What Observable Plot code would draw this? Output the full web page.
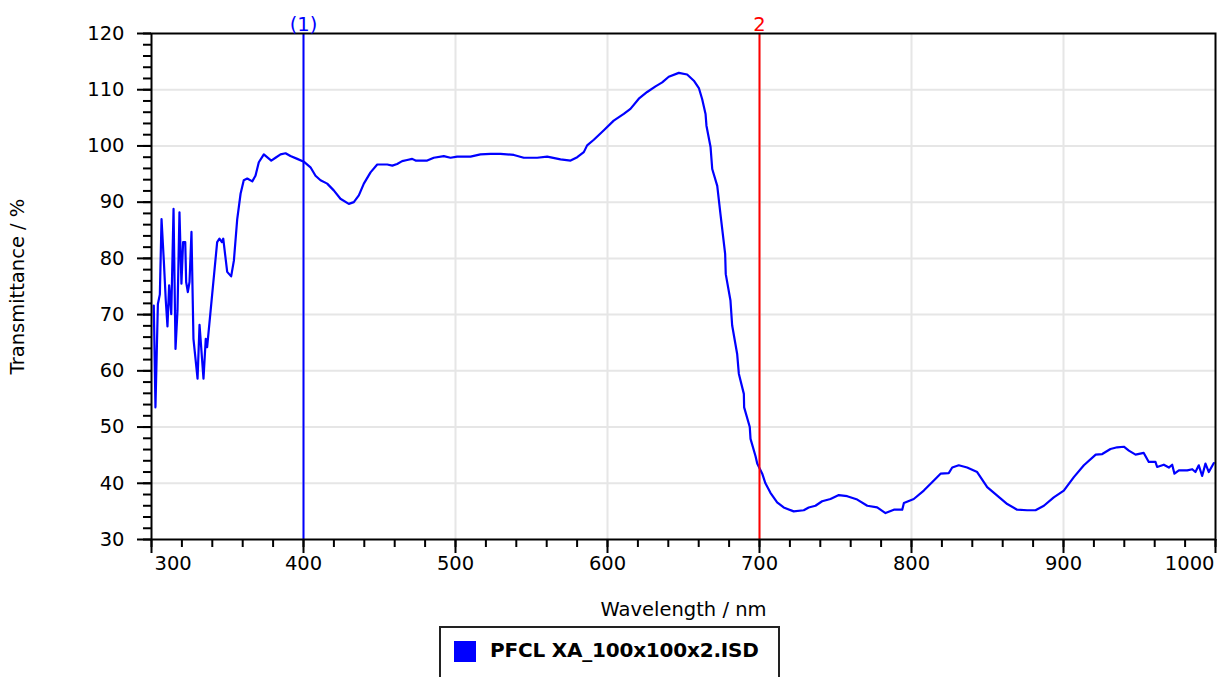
<!DOCTYPE html>
<html>
<head>
<meta charset="utf-8">
<script src="https://cdn.jsdelivr.net/npm/d3@7"></script>
<script src="https://cdn.jsdelivr.net/npm/@observablehq/plot@0.6"></script>
<style>
  html, body { margin: 0; padding: 0; background: #fff; overflow: hidden; }
  #wrap { position: relative; width: 1221px; height: 677px; font-family: "DejaVu Sans", sans-serif; }
  #legend { position: absolute; left: 439px; top: 626px; width: 337px; height: 70px; border: 2px solid #222; background: #fff; }
  #legend .sw { position: absolute; left: 13px; top: 13px; width: 22px; height: 21px; background: #0000ff; }
  #legend .lb { position: absolute; left: 49px; top: 10px; font-weight: bold; font-size: 20px; color: #000; white-space: nowrap; letter-spacing: -0.2px; }
</style>
</head>
<body>
<div id="wrap"><div id="chart"></div>
<div id="legend"><div class="sw"></div><div class="lb">PFCL XA_100x100x2.ISD</div></div>
</div>
<script>
const wavelength = [301.5,302.6,304.2,305.5,306.6,308.1,309.4,310.5,311.6,313.0,314.5,315.8,317.1,318.4,319.7,320.8,322.2,322.8,323.9,325.0,326.3,327.6,330.3,331.6,334.2,335.7,336.6,343.2,344.7,346.3,347.2,349.8,352.4,354.2,356.4,358.6,360.7,363.0,366.3,368.4,370.6,373.9,378.8,381.6,384.9,388.2,391.4,395.9,400.2,404.6,407.9,411.2,415.6,419.9,424.3,429.8,433.1,436.4,439.7,444.1,448.5,455.1,458.4,461.6,464.9,468.2,471.5,473.7,481.4,485.7,492.3,496.7,501.1,509.9,516.4,523.0,529.6,538.4,544.9,553.7,560.3,569.1,575.7,580.1,584.4,586.6,591.0,597.6,604.1,610.7,615.1,620.6,626.1,631.6,636.0,640.3,646.9,652.4,656.8,660.1,662.3,664.5,665.1,667.8,668.9,672.2,674.3,677.4,677.8,680.9,682.0,685.3,686.4,689.7,689.9,693.6,694.1,697.4,698.5,701.8,703.9,707.2,711.6,715.9,722.5,729.1,732.4,736.8,741.2,746.7,752.2,757.7,764.3,770.9,777.4,782.9,788.4,793.9,795.0,801.5,808.1,814.7,819.1,824.5,826.8,831.1,836.6,843.2,849.8,856.4,863.0,869.5,876.1,881.6,887.1,893.6,900.2,906.8,913.4,921.2,925.5,930.9,935.3,939.7,943.0,947.4,952.8,956.1,960.5,961.6,966.0,969.3,971.5,973.0,975.9,981.4,984.7,986.8,989.0,991.2,993.4,995.6,998.9];
const transmittance = [71.6,53.5,71.9,73.6,87.0,79.6,72.5,67.9,75.2,70.1,88.8,63.9,70.7,88.2,75.5,82.9,82.9,75.8,74.0,75.8,84.7,65.7,58.6,68.2,58.6,65.7,64.2,82.9,83.5,82.9,83.5,77.6,76.8,79.6,87.0,91.5,93.9,94.2,93.7,94.7,97.1,98.5,97.4,97.9,98.5,98.7,98.2,97.7,97.2,96.2,94.7,93.9,93.3,92.1,90.6,89.7,90.0,91.2,93.3,95.3,96.7,96.7,96.5,96.8,97.3,97.5,97.7,97.4,97.4,97.9,98.2,97.9,98.1,98.1,98.5,98.6,98.6,98.4,97.9,97.9,98.1,97.6,97.4,98.0,98.9,100.1,101.1,102.8,104.5,105.7,106.6,108.4,109.6,110.6,111.3,112.3,113.0,112.7,111.6,110.3,108.3,105.7,103.6,99.8,95.9,92.9,87.9,80.8,77.2,72.5,68.1,63.0,59.5,55.9,53.5,50.0,47.9,44.8,43.5,41.7,40.0,38.3,36.6,35.7,35.0,35.2,35.7,36.0,36.8,37.2,37.9,37.7,37.1,36.0,35.7,34.7,35.3,35.3,36.5,37.2,38.7,40.5,41.7,41.8,42.8,43.2,42.8,42.0,39.3,37.8,36.3,35.3,35.2,35.2,36.0,37.5,38.7,41.1,43.2,45.1,45.2,46.1,46.4,46.5,45.8,45.1,45.4,43.8,43.8,42.9,43.3,42.8,43.3,41.7,42.3,42.3,42.5,42.0,43.2,41.3,43.5,42.0,43.6];

const xMajorTicks = [300, 400, 500, 600, 700, 800, 900, 1000];
const yMajorTicks = [30, 40, 50, 60, 70, 80, 90, 100, 110, 120];
const markerX = [400, 700];
const markerLabels = ["(1)", "2"];
const markerColors = ["#0000ff", "#ff0000"];

const data = wavelength.map((w, i) => ({w, t: transmittance[i]}));
const markers = markerX.map((x, i) => ({x, label: markerLabels[i], color: markerColors[i]}));

const FS = 19.5;
const fmt = d => String(d);
const H = 620;
const chart = Plot.plot({
  width: 1221,
  height: H,
  marginLeft: 151,
  marginRight: 6,
  marginTop: 33,
  marginBottom: H - 539,
  style: {fontFamily: "DejaVu Sans, sans-serif", fontSize: FS + "px", color: "#000", background: "#fff"},
  x: {domain: [300, 1000]},
  y: {domain: [30, 120]},
  marks: [
    Plot.gridX(xMajorTicks.slice(1, -1), {stroke: "#e6e6e6", strokeOpacity: 1, strokeWidth: 2}),
    Plot.gridY(yMajorTicks.slice(1, -1), {stroke: "#e6e6e6", strokeOpacity: 1, strokeWidth: 2}),
    Plot.line(data, {x: "w", y: "t", stroke: "#0000ff", strokeWidth: 2.2}),
    Plot.ruleX(markers, {x: "x", stroke: "color", strokeWidth: 2}),
    Plot.frame({stroke: "#000", strokeWidth: 2}),
    Plot.text(markers, {x: "x", text: "label", fill: "color", frameAnchor: "top", lineAnchor: "bottom", dy: -3, fontSize: FS}),
    // y axis: minor + major ticks
    Plot.axisY({ticks: d3.range(30, 121, 2), tickSize: 8, text: null, strokeWidth: 2, label: null}),
    Plot.axisY({ticks: yMajorTicks, tickSize: 14, tickPadding: 13, strokeWidth: 2, fontSize: FS, tickFormat: fmt,
      label: "Transmittance / %", labelAnchor: "center", labelArrow: "none", labelOffset: 141}),
    // x axis: minor ticks + major ticks + labels
    Plot.axisX({ticks: d3.range(300, 1001, 20), tickSize: 8, text: null, strokeWidth: 2, label: null}),
    Plot.axisX({ticks: xMajorTicks, tickSize: 14, text: null, strokeWidth: 2,
      label: "Wavelength / nm", labelAnchor: "center", labelArrow: "none", labelOffset: 76, fontSize: FS}),
    Plot.axisX({ticks: xMajorTicks.slice(0, 1), tickSize: 0, tickPadding: 17, textAnchor: "start", dx: 3, fontSize: FS, tickFormat: fmt, label: null}),
    Plot.axisX({ticks: xMajorTicks.slice(1, -1), tickSize: 0, tickPadding: 17, fontSize: FS, tickFormat: fmt, label: null}),
    Plot.axisX({ticks: xMajorTicks.slice(-1), tickSize: 0, tickPadding: 17, textAnchor: "end", dx: -1, fontSize: FS, tickFormat: fmt, label: null})
  ]
});
document.getElementById("chart").appendChild(chart);
</script>
</body>
</html>
